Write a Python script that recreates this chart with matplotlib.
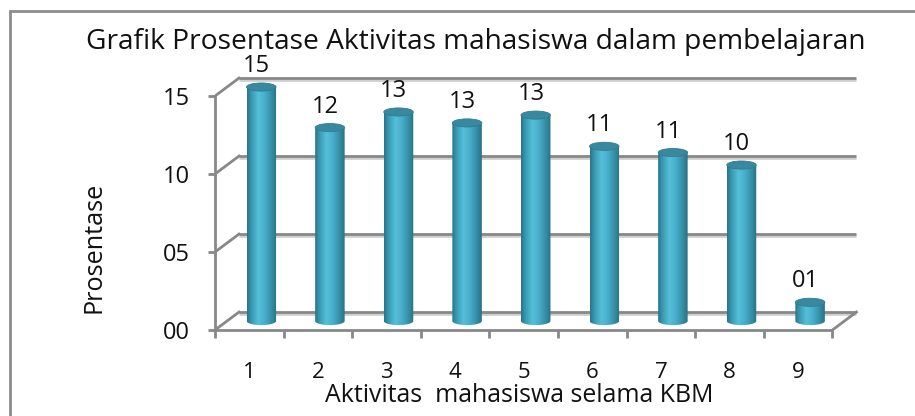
import matplotlib
matplotlib.use('Agg')
import matplotlib.pyplot as plt
import matplotlib.patheffects as pe
import numpy as np
from matplotlib.colors import LinearSegmentedColormap
from matplotlib.patches import Ellipse, Rectangle
from matplotlib.path import Path

categories = ['1', '2', '3', '4', '5', '6', '7', '8', '9']
values = [15.0, 12.4, 13.4, 12.7, 13.2, 11.2, 10.8, 10.0, 1.2]
yticks = [0, 5, 10, 15]
ytick_labels = ['00', '05', '10', '15']
title = 'Grafik Prosentase Aktivitas mahasiswa dalam pembelajaran'
xlabel = 'Aktivitas  mahasiswa selama KBM'
ylabel = 'Prosentase'

plt.rcParams['font.family'] = ['Open Sans', 'DejaVu Sans']

# pseudo 3d depth, in data units
dx, dy = 0.35, 1.15
bar_w = 0.43
ell_h = 0.52
grid_c = '#888888'

body_cmap = LinearSegmentedColormap.from_list('cyl', [
    (0.0, '#2a7387'), (0.15, '#3a9ab3'), (0.38, '#55bfd9'),
    (0.6, '#47aecb'), (0.85, '#338aa1'), (1.0, '#2a7285')])


def cylinder(ax, xc, top, base):
    x0, x1 = xc - bar_w / 2, xc + bar_w / 2
    grad = np.linspace(0, 1, 200).reshape(1, -1)
    im = ax.imshow(grad, cmap=body_cmap, aspect='auto', zorder=3,
                   extent=[x0, x1, base - ell_h, top], interpolation='bilinear')
    th = np.linspace(np.pi, 2 * np.pi, 60)
    arc = np.column_stack([xc + bar_w / 2 * np.cos(th), base + ell_h / 2 * np.sin(th)])
    verts = np.vstack([[x0, top], arc, [x1, top], [x0, top]])
    clip = Path(verts, closed=True)
    im.set_clip_path(clip, ax.transData)
    ax.add_patch(Ellipse((xc, top), bar_w, ell_h, facecolor='#3889a0',
                         edgecolor='#327b8f', lw=0.6, zorder=4))


def fit_text(fig, txt, length_px):
    # scale font so the text spans about length_px along its direction
    r = fig.canvas.get_renderer()
    bb = txt.get_window_extent(r)
    size = bb.height if txt.get_rotation() == 90 else bb.width
    txt.set_fontsize(txt.get_fontsize() * length_px / size)


def main():
    fig = plt.figure(figsize=(9.15, 4.16), dpi=100)
    fig.patches.append(Rectangle((10 / 915, -0.1), 1.0, 1.1 - 11 / 416, fill=False,
                                 edgecolor='#8c8c8c', lw=2, transform=fig.transFigure))
    ax = fig.add_axes([215 / 915, 86 / 416, 651.7 / 915, 257.4 / 416])

    n = len(values)
    xs = np.arange(1, n + 1)
    shadow = [pe.SimpleLineShadow(offset=(0, -1.3), shadow_color='#cfcfcf', alpha=1), pe.Normal()]
    for v in yticks:
        ax.plot([0.5 + dx, n + 0.5 + dx], [v + dy, v + dy], color=grid_c, lw=2,
                solid_capstyle='butt', zorder=1, path_effects=shadow)
        ax.plot([0.5, 0.5 + dx], [v, v + dy], color=grid_c, lw=2, zorder=1)
    ax.plot([n + 0.5, n + 0.5 + dx], [0, dy], color=grid_c, lw=2, zorder=1)

    for xc, v in zip(xs, values):
        cylinder(ax, xc + dx / 2, v + dy / 2, dy / 2)
        ax.text(xc + dx / 2 - 0.07, v + dy / 2 + 0.95, '%02.0f' % v, ha='center',
                va='baseline', fontsize=17, color='#111111', zorder=5)

    ax.set_xlim(0.5, 10.0)
    ax.set_ylim(0, 16.5)
    for s in ['top', 'right']:
        ax.spines[s].set_visible(False)
    for s in ['left', 'bottom']:
        ax.spines[s].set_color(grid_c)
        ax.spines[s].set_linewidth(2)
    ax.spines['left'].set_bounds(0, 15)
    ax.spines['bottom'].set_bounds(0.5, n + 0.5)

    ax.set_yticks(yticks)
    ax.set_yticklabels(ytick_labels)
    ax.tick_params(axis='y', direction='out', length=5, width=2, color=grid_c,
                   pad=13, labelsize=17, labelcolor='#111111')
    ax.set_xticks(np.arange(0.5, n + 1.0, 1.0))
    ax.set_xticklabels([])
    ax.tick_params(axis='x', which='major', direction='out', length=6, width=2, color=grid_c)
    ax.set_xticks(xs, minor=True)
    ax.set_xticklabels(categories, minor=True)
    ax.tick_params(axis='x', which='minor', length=0, pad=23, labelsize=16, labelcolor='#111111')
    ax.patch.set_visible(False)

    t = fig.text(476 / 915, 1 - 42 / 416, title, ha='center', va='center', fontsize=20, color='#111111')
    fit_text(fig, t, 778)
    t = fig.text(519 / 915, 1 - 396 / 416, xlabel, ha='center', va='center', fontsize=18, color='#111111')
    fit_text(fig, t, 388)
    t = fig.text(94 / 915, 1 - 247 / 416, ylabel, ha='center', va='center', rotation=90,
                 fontsize=20, color='#111111')
    fit_text(fig, t, 131)

    fig.savefig('out.png', dpi=100)


if __name__ == '__main__':
    main()
